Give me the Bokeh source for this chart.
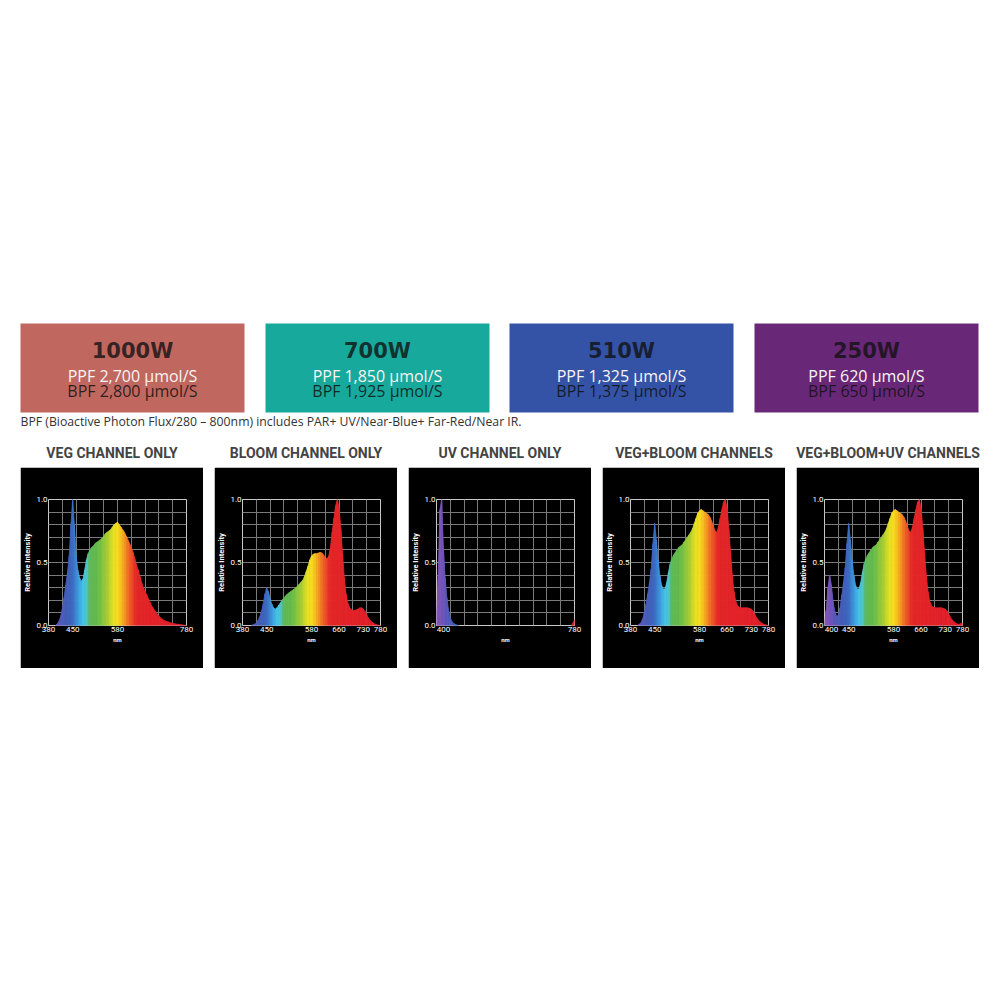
from bokeh.plotting import figure
from bokeh.models import Range1d, FixedTicker, PrintfTickFormatter, ColumnDataSource, Spacer
from bokeh.layouts import column, row
from bokeh.embed import file_html
from bokeh.resources import INLINE
from bokeh.core.properties import value

# ---------------- data ----------------
WATTS = ["1000W", "700W", "510W", "250W"]
PPF = [2700, 1850, 1325, 620]
BPF = [2800, 1925, 1375, 650]
FOOTNOTE = "BPF (Bioactive Photon Flux/280 \u2013 800nm) includes PAR+ UV/Near-Blue+ Far-Red/Near IR."
CHANNEL_TITLES = ["VEG CHANNEL ONLY", "BLOOM CHANNEL ONLY", "UV CHANNEL ONLY",
                  "VEG+BLOOM CHANNELS", "VEG+BLOOM+UV CHANNELS"]

NM = list(range(380, 785, 5))  # wavelength grid, 380..780 nm

VEG = [
    0.0, 0.0, 0.0, 0.0, 0.0, 0.01, 0.03, 0.07, 0.13, 0.22,
    0.32, 0.42, 0.55, 0.80, 1.00, 0.80, 0.56, 0.44, 0.38, 0.35,
    0.37, 0.44, 0.52, 0.57, 0.60, 0.62, 0.63, 0.65, 0.66, 0.67,
    0.68, 0.69, 0.71, 0.73, 0.74, 0.75, 0.76, 0.78, 0.80, 0.81,
    0.82, 0.80, 0.78, 0.76, 0.74, 0.71, 0.68, 0.65, 0.62, 0.58,
    0.53, 0.48, 0.44, 0.39, 0.34, 0.30, 0.27, 0.24, 0.21, 0.18,
    0.15, 0.13, 0.11, 0.09, 0.075, 0.06, 0.05, 0.04, 0.035, 0.03,
    0.025, 0.02, 0.017, 0.014, 0.012, 0.01, 0.008, 0.006, 0.004, 0.002,
    0.0,
]
BLOOM = [
    0.0, 0.0, 0.0, 0.0, 0.0, 0.0, 0.005, 0.01, 0.02, 0.04,
    0.07, 0.11, 0.17, 0.25, 0.30, 0.27, 0.21, 0.17, 0.14, 0.13,
    0.14, 0.16, 0.18, 0.20, 0.22, 0.235, 0.25, 0.26, 0.27, 0.28,
    0.29, 0.30, 0.315, 0.33, 0.345, 0.36, 0.39, 0.43, 0.47, 0.52,
    0.55, 0.565, 0.57, 0.57, 0.575, 0.58, 0.575, 0.56, 0.54, 0.53,
    0.55, 0.62, 0.74, 0.85, 0.95, 1.00, 0.93, 0.77, 0.57, 0.38,
    0.25, 0.18, 0.145, 0.125, 0.12, 0.12, 0.125, 0.13, 0.14, 0.14,
    0.13, 0.11, 0.085, 0.06, 0.04, 0.028, 0.018, 0.01, 0.005, 0.002,
    0.0,
]
UV = [
    0.10, 0.40, 0.92, 1.00, 0.62, 0.38, 0.22, 0.12, 0.06, 0.03,
    0.015, 0.007, 0.003, 0.0, 0.0, 0.0, 0.0, 0.0, 0.0, 0.0,
    0.0, 0.0, 0.0, 0.0, 0.0, 0.0, 0.0, 0.0, 0.0, 0.0,
    0.0, 0.0, 0.0, 0.0, 0.0, 0.0, 0.0, 0.0, 0.0, 0.0,
    0.0, 0.0, 0.0, 0.0, 0.0, 0.0, 0.0, 0.0, 0.0, 0.0,
    0.0, 0.0, 0.0, 0.0, 0.0, 0.0, 0.0, 0.0, 0.0, 0.0,
    0.0, 0.0, 0.0, 0.0, 0.0, 0.0, 0.0, 0.0, 0.0, 0.0,
    0.0, 0.0, 0.0, 0.0, 0.0, 0.0, 0.0, 0.0, 0.0, 0.015,
    0.045,
]
VEG_BLOOM = [
    0.0, 0.0, 0.0, 0.0, 0.0, 0.01, 0.02, 0.05, 0.10, 0.17,
    0.25, 0.34, 0.45, 0.65, 0.81, 0.68, 0.52, 0.40, 0.32, 0.29,
    0.29, 0.34, 0.42, 0.49, 0.53, 0.56, 0.58, 0.60, 0.62, 0.63,
    0.64, 0.66, 0.68, 0.70, 0.72, 0.74, 0.77, 0.81, 0.85, 0.89,
    0.91, 0.92, 0.91, 0.90, 0.89, 0.88, 0.86, 0.83, 0.79, 0.75,
    0.74, 0.78, 0.85, 0.92, 0.98, 1.00, 0.93, 0.77, 0.58, 0.40,
    0.27, 0.19, 0.16, 0.145, 0.14, 0.14, 0.14, 0.14, 0.14, 0.135,
    0.13, 0.115, 0.09, 0.065, 0.045, 0.03, 0.02, 0.012, 0.006, 0.003,
    0.0,
]
VEG_BLOOM_UV = [
    0.03, 0.12, 0.30, 0.40, 0.32, 0.19, 0.11, 0.075, 0.08, 0.14,
    0.24, 0.34, 0.46, 0.65, 0.81, 0.68, 0.52, 0.40, 0.32, 0.29,
    0.29, 0.34, 0.42, 0.49, 0.53, 0.56, 0.58, 0.60, 0.62, 0.63,
    0.64, 0.66, 0.68, 0.70, 0.72, 0.74, 0.77, 0.81, 0.85, 0.89,
    0.91, 0.92, 0.91, 0.90, 0.89, 0.88, 0.86, 0.83, 0.79, 0.75,
    0.74, 0.78, 0.85, 0.92, 0.98, 1.00, 0.93, 0.77, 0.58, 0.40,
    0.27, 0.19, 0.16, 0.145, 0.14, 0.14, 0.14, 0.14, 0.14, 0.135,
    0.13, 0.115, 0.09, 0.065, 0.045, 0.03, 0.02, 0.012, 0.01, 0.015,
    0.02,
]
SERIES = [VEG, BLOOM, UV, VEG_BLOOM, VEG_BLOOM_UV]
X_TICKS = [
    [380, 450, 580, 780],
    [380, 450, 580, 660, 730, 780],
    [400, 780],
    [380, 450, 580, 660, 730, 780],
    [400, 450, 580, 660, 730, 780],
]
Y_TICKS = [0.0, 0.5, 1.0]

# ---------------- styling ----------------
BOX_COLORS = ["#c0675f", "#17a99b", "#3553a6", "#682877"]
TEXT_FONT = "Open Sans"
TITLE_FONT = "Roboto"
AXIS_FONT = "Roboto"

COLOR_STOPS = [
    (380, (140, 90, 185)),
    (395, (120, 85, 185)),
    (410, (90, 90, 190)),
    (430, (70, 95, 185)),
    (450, (60, 105, 195)),
    (465, (60, 150, 220)),
    (480, (70, 195, 235)),
    (492, (80, 200, 200)),
    (500, (95, 185, 90)),
    (525, (105, 190, 75)),
    (550, (165, 205, 55)),
    (570, (235, 228, 35)),
    (585, (250, 215, 30)),
    (600, (247, 160, 35)),
    (615, (240, 100, 40)),
    (635, (230, 40, 40)),
    (780, (225, 30, 45)),
]


def wl_color(w):
    for (w0, c0), (w1, c1) in zip(COLOR_STOPS[:-1], COLOR_STOPS[1:]):
        if w0 <= w <= w1:
            t = (w - w0) / (w1 - w0)
            r, g, b = (int(round(a + (bb - a) * t)) for a, bb in zip(c0, c1))
            return "#%02x%02x%02x" % (r, g, b)
    return "#%02x%02x%02x" % COLOR_STOPS[-1][1]


# ---------------- header ----------------
HDR_W, HDR_H = 984, 467
hdr = figure(width=HDR_W, height=HDR_H, x_range=Range1d(0, HDR_W), y_range=Range1d(HDR_H, 0),
             output_backend="svg", toolbar_location=None, x_axis_type=None, y_axis_type=None,
             min_border=0, outline_line_color=None)
hdr.grid.visible = False

box_w = 224
lefts = [20 + round(i * 244.67) for i in range(len(WATTS))]
centers = [l + box_w / 2 for l in lefts]
hdr.quad(left=lefts, right=[l + box_w for l in lefts], top=323, bottom=412,
         fill_color=BOX_COLORS, line_color=None)
hdr.text(x=centers, y=[350] * 4, text=WATTS, text_align="center", text_baseline="middle",
         text_font=value("DejaVu Sans"), text_font_style="bold", text_font_size="21px",
         text_color="#111111", text_alpha=0.8)
hdr.text(x=centers, y=[375] * 4, text=["PPF {:,} \u00b5mol/S".format(v) for v in PPF],
         text_align="center", text_baseline="middle", text_font=value(TEXT_FONT),
         text_font_size="16px", text_color="#f8f4f4")
hdr.text(x=centers, y=[390] * 4, text=["BPF {:,} \u00b5mol/S".format(v) for v in BPF],
         text_align="center", text_baseline="middle", text_font=value(TEXT_FONT),
         text_font_size="16px", text_color="#111111", text_alpha=0.85)
hdr.text(x=[20], y=[421], text=[FOOTNOTE], text_align="left", text_baseline="middle",
         text_font=value(TEXT_FONT), text_font_size="12.25px", text_color="#333333")

panel_w, panel_gap, panel_x0 = 183, 11, 20
hdr.text(x=[panel_x0 + panel_w / 2 + i * (panel_w + panel_gap) for i in range(5)], y=[452] * 5,
         text=CHANNEL_TITLES, text_align="center", text_baseline="middle",
         text_font=value(TITLE_FONT), text_font_style="bold", text_font_size="14px",
         text_color="#444444")


# ---------------- spectra ----------------
def spectrum(values, ticks):
    p = figure(width=panel_w, height=201, x_range=Range1d(380, 780), y_range=Range1d(0, 1.0),
               output_backend="svg", toolbar_location=None,
               min_border_left=24, min_border_right=17, min_border_top=32, min_border_bottom=43,
               background_fill_color="black", border_fill_color="black")
    p.outline_line_color = "#c8c8c8"
    p.outline_line_width = 1

    xs, ys, cols = [], [], []
    for i in range(len(NM) - 1):
        a, b = values[i], values[i + 1]
        if a == 0 and b == 0:
            continue
        xs.append([NM[i], NM[i], NM[i + 1], NM[i + 1]])
        ys.append([0, a, b, 0])
        cols.append(wl_color((NM[i] + NM[i + 1]) / 2))
    src = ColumnDataSource(dict(xs=xs, ys=ys, color=cols))
    p.patches(xs="xs", ys="ys", fill_color="color", line_color="color", line_width=0.8,
              line_join="round", source=src)

    p.xgrid.ticker = FixedTicker(ticks=[420, 460, 500, 540, 580, 620, 660, 700, 740])
    p.ygrid.ticker = FixedTicker(ticks=[0.1, 0.2, 0.3, 0.4, 0.5, 0.6, 0.7, 0.8, 0.9])
    p.grid.grid_line_color = "#7a7a7a"
    p.grid.grid_line_width = 1

    p.xaxis.ticker = FixedTicker(ticks=ticks)
    p.yaxis.ticker = FixedTicker(ticks=Y_TICKS)
    p.yaxis.formatter = PrintfTickFormatter(format="%.1f")
    p.xaxis.axis_label = "nm"
    p.yaxis.axis_label = "Relative Intensity"
    for ax in (p.xaxis, p.yaxis):
        ax.axis_line_color = None
        ax.major_tick_line_color = None
        ax.minor_tick_line_color = None
        ax.major_tick_out = 0
        ax.major_tick_in = 0
        ax.major_label_standoff = 1
        ax.axis_label_standoff = 1
        ax.major_label_text_color = "white"
        ax.major_label_text_font = AXIS_FONT
        ax.major_label_text_font_size = "8px"
        ax.axis_label_text_color = "white"
        ax.axis_label_text_font = AXIS_FONT
        ax.axis_label_text_font_style = "bold"
    p.xaxis.axis_label_text_font_size = "6px"
    p.yaxis.axis_label_text_font_size = "7.5px"
    return p


charts = [spectrum(v, t) for v, t in zip(SERIES, X_TICKS)]
items = [Spacer(width=panel_x0, height=201)]
for i, c in enumerate(charts):
    if i:
        items.append(Spacer(width=panel_gap, height=201))
    items.append(c)

layout = column(hdr, row(*items))
open("out.html", "w").write(file_html(layout, INLINE))
